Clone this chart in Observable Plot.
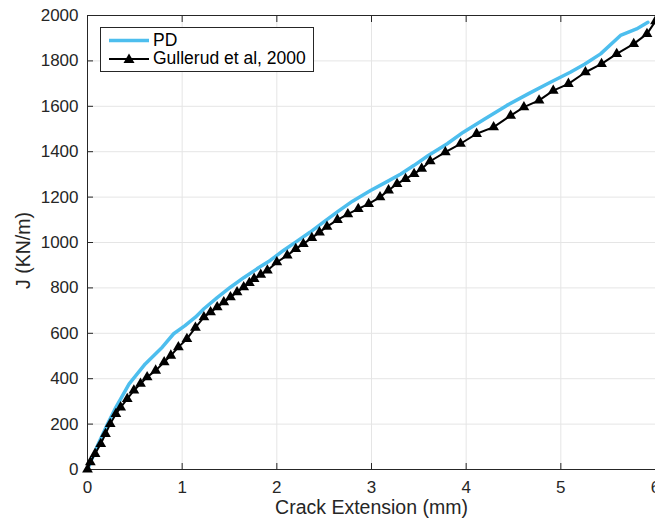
<!DOCTYPE html>
<html>
<head>
<meta charset="utf-8">
<script src="https://cdn.jsdelivr.net/npm/d3@7"></script>
<script src="https://cdn.jsdelivr.net/npm/@observablehq/plot@0.6"></script>
<style>
  html, body { margin: 0; padding: 0; background: #fff; overflow: hidden; }
  #wrap { position: relative; width: 655px; height: 520px; font-family: "Liberation Sans", Arial, Helvetica, sans-serif; }
  #legend { position: absolute; left: 100px; top: 27px; width: 214px; height: 45px; border: 1px solid #262626; background: #fff; box-sizing: border-box; }
  #legend svg { position: absolute; left: 0; top: 0; }
  .lt { position: absolute; left: 52px; font-size: 17.5px; color: #000; line-height: 1; white-space: nowrap; }
</style>
</head>
<body>
<div id="wrap">
  <div id="chart"></div>
  <div id="legend">
    <svg width="214" height="45">
      <line x1="8" x2="48" y1="12.5" y2="12.5" stroke="#4DBEEE" stroke-width="3.5"/>
      <line x1="8" x2="48" y1="31" y2="31" stroke="#000" stroke-width="2"/>
      <path d="M28,25.5 L33.5,35 L22.5,35 Z" fill="#000"/>
    </svg>
    <div class="lt" style="top:3.5px">PD</div>
    <div class="lt" style="top:22px">Gullerud et al, 2000</div>
  </div>
</div>
<script>
const seriesNames = ["PD", "Gullerud et al, 2000"];
const xLabel = "Crack Extension (mm)";
const yLabel = "J (KN/m)";

const pdX = [0, 0.05, 0.1, 0.2, 0.30, 0.44, 0.61, 0.79, 0.91, 1.03, 1.14, 1.23, 1.37, 1.51, 1.65, 1.79, 1.93, 2.07, 2.21, 2.35, 2.50, 2.65, 2.80, 2.99, 3.15, 3.31, 3.45, 3.60, 3.80, 3.97, 4.20, 4.43, 4.66, 4.89, 5.10, 5.25, 5.42, 5.63, 5.80, 5.92];
const pdY = [0, 50, 100, 190, 274, 377, 465, 539, 598, 634, 671, 708, 757, 803, 845, 884, 921, 965, 1005, 1045, 1092, 1138, 1182, 1229, 1265, 1302, 1340, 1383, 1435, 1486, 1545, 1604, 1656, 1706, 1750, 1785, 1831, 1912, 1941, 1970];

const gX = [0, 0.03, 0.08, 0.14, 0.19, 0.24, 0.30, 0.35, 0.42, 0.49, 0.56, 0.63, 0.72, 0.81, 0.88, 0.96, 1.05, 1.14, 1.23, 1.30, 1.37, 1.44, 1.51, 1.58, 1.65, 1.71, 1.76, 1.83, 1.90, 2.00, 2.11, 2.20, 2.28, 2.37, 2.45, 2.53, 2.64, 2.75, 2.86, 2.97, 3.09, 3.18, 3.27, 3.36, 3.45, 3.53, 3.62, 3.78, 3.94, 4.11, 4.29, 4.47, 4.61, 4.77, 4.92, 5.08, 5.26, 5.43, 5.59, 5.77, 5.91, 6.0];
const gY = [0, 32, 69, 113, 157, 201, 245, 274, 311, 348, 378, 407, 436, 473, 502, 539, 575, 625, 671, 693, 715, 737, 759, 781, 803, 822, 840, 858, 877, 913, 943, 972, 994, 1020, 1045, 1070, 1100, 1125, 1148, 1170, 1200, 1230, 1258, 1280, 1302, 1325, 1358, 1398, 1435, 1479, 1508, 1559, 1596, 1626, 1669, 1699, 1750, 1787, 1831, 1875, 1919, 1975];

const xTicks = [0, 1, 2, 3, 4, 5, 6];
const yTicks = [0, 200, 400, 600, 800, 1000, 1200, 1400, 1600, 1800, 2000];

const pd = pdX.map((x, i) => ({x, y: pdY[i]}));
const gul = gX.map((x, i) => ({x, y: gY[i]}));

const axisColor = "#262626";
const fontFam = "Liberation Sans, Arial, Helvetica, sans-serif";

const chart = Plot.plot({
  width: 655,
  height: 520,
  marginLeft: 87,
  marginRight: 0,
  marginTop: 15,
  marginBottom: 51,
  style: { fontFamily: fontFam, fontSize: "17px", color: axisColor, background: "#fff", overflow: "visible" },
  x: { domain: [0, 6] },
  y: { domain: [0, 2000] },
  marks: [
    Plot.gridX(xTicks, { stroke: "#e5e5e5", strokeOpacity: 1, strokeWidth: 1 }),
    Plot.gridY(yTicks, { stroke: "#e5e5e5", strokeOpacity: 1, strokeWidth: 1 }),
    Plot.axisX(xTicks, { tickSize: 0, tickPadding: 11, fontSize: 17, tickFormat: d => String(d), label: null, fill: axisColor }),
    Plot.axisX(xTicks, { tickSize: 6, dy: -6, text: null, label: null, stroke: axisColor }),
    Plot.axisX(xTicks, { anchor: "top", tickSize: 6, dy: 6, text: null, label: null, stroke: axisColor }),
    Plot.axisY(yTicks, { tickSize: 0, tickPadding: 9, fontSize: 17, tickFormat: d => String(d), label: null, fill: axisColor }),
    Plot.axisY(yTicks, { tickSize: 6, dx: 6, text: null, label: null, stroke: axisColor }),
    Plot.frame({ stroke: axisColor, strokeWidth: 1 }),
    Plot.text([xLabel], { frameAnchor: "bottom", dy: 38, text: d => d, fontSize: 19.5, fill: axisColor, lineAnchor: "middle", textAnchor: "middle" }),
    Plot.text([yLabel], { frameAnchor: "left", dx: -64, dy: 8, rotate: -90, text: d => d, fontSize: 19.5, fill: axisColor, lineAnchor: "middle", textAnchor: "middle" }),
    Plot.line(pd, { x: "x", y: "y", stroke: "#4DBEEE", strokeWidth: 3.5 }),
    Plot.line(gul, { x: "x", y: "y", stroke: "#000", strokeWidth: 2 }),
    Plot.dot(gul, { x: "x", y: "y", symbol: "triangle", r: 4, fill: "#000", stroke: "none" })
  ]
});
document.getElementById("chart").appendChild(chart);
</script>
</body>
</html>
